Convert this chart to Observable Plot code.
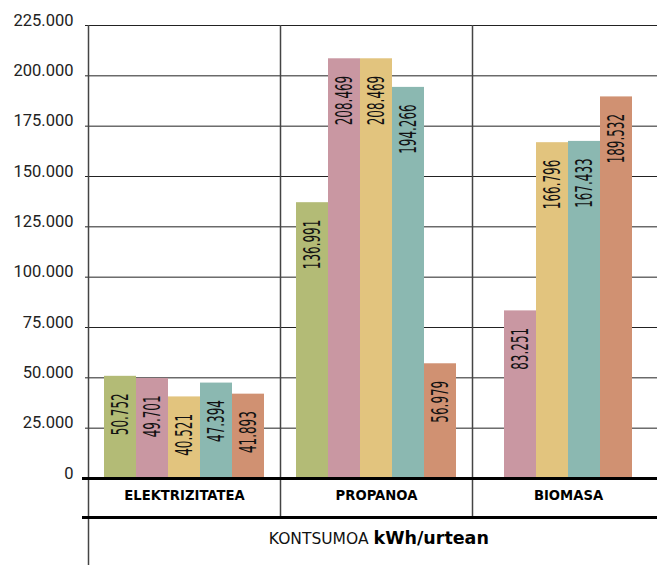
<!DOCTYPE html>
<html>
<head>
<meta charset="utf-8">
<script src="https://cdn.jsdelivr.net/npm/d3@7"></script>
<script src="https://cdn.jsdelivr.net/npm/@observablehq/plot@0.6"></script>
<style>
  html, body { margin: 0; padding: 0; overflow: hidden; background: #fff; }
  #chart svg { display: block; max-width: none !important; }
</style>
</head>
<body>
<div id="chart"></div>
<script>
// ---- data ----
const categories = ["ELEKTRIZITATEA", "PROPANOA", "BIOMASA"];
const series = ["1", "2", "3", "4", "5"];
const colors = ["#b3bb76", "#c997a2", "#e2c47e", "#8bb8b1", "#d09172"];
const elektrizitatea = [50752, 49701, 40521, 47394, 41893];
const propanoa = [136991, 208469, 208469, 194266, 56979];
const biomasa = [null, 83251, 166796, 167433, 189532];
const yTicks = [0, 25000, 50000, 75000, 100000, 125000, 150000, 175000, 200000, 225000];
const captionRegular = "KONTSUMOA";
const captionBold = "kWh/urtean";

const values = [elektrizitatea, propanoa, biomasa];
const slotsPerGroup = 6;

const fmt = d3.formatLocale({decimal: ",", thousands: ".", grouping: [3], currency: ["", ""]}).format(",d");

const rows = [];
categories.forEach((c, g) => {
  const present = series.map((s, i) => ({s, v: values[g][i]})).filter(d => d.v != null);
  present.forEach((d, k) => {
    const start = g * slotsPerGroup + slotsPerGroup / 2 - present.length / 2 + k;
    rows.push({category: c, series: d.s, value: d.v, x1: start, x2: start + 1});
  });
});

const chart = Plot.plot({
  width: 664,
  height: 565,
  marginLeft: 88,
  marginRight: 0,
  marginTop: 25,
  marginBottom: 87,
  x: {domain: [0, categories.length * slotsPerGroup], axis: null},
  y: {domain: [0, 225000], axis: null},
  color: {domain: series, range: colors},
  style: {background: "white"},
  marks: [
    Plot.ruleY(yTicks, {stroke: "#222", strokeWidth: 1, insetLeft: -3}),
    Plot.rectY(rows, {x1: "x1", x2: "x2", y: "value", fill: "series"}),
    Plot.ruleX([0], {stroke: "#444", strokeWidth: 1.5, insetBottom: -87}),
    Plot.ruleX(categories.slice(1).map((c, i) => (i + 1) * slotsPerGroup), {stroke: "#444", strokeWidth: 1.5, insetBottom: -39}),
    Plot.ruleY([0], {stroke: "#000", strokeWidth: 3, insetLeft: -6}),
    Plot.ruleY([0], {stroke: "#000", strokeWidth: 3, insetLeft: -6, dy: 39}),
    Plot.text(yTicks, {y: d => d, text: d => fmt(d), frameAnchor: "left", textAnchor: "end", dx: -15, dy: -5, fontSize: 16.5, fontFamily: "Roboto", fill: "#222"}),
    Plot.text(rows, {x: d => (d.x1 + d.x2) / 2, y: "value", text: d => fmt(d.value), rotate: -90, textAnchor: "end", dy: 17, fontSize: 23, fontFamily: "DejaVu Sans", fill: "#111", ariaLabel: "bar-labels"}),
    Plot.text(categories, {x: (d, i) => i * slotsPerGroup + slotsPerGroup / 2, frameAnchor: "bottom", dy: 21, fontSize: 13.2, fontWeight: "bold", fontFamily: "DejaVu Sans", fill: "#000", ariaLabel: "cat-labels"}),
    Plot.text([captionRegular], {frameAnchor: "bottom", textAnchor: "end", dx: -8, dy: 65, fontSize: 15.5, fontFamily: "DejaVu Sans", fill: "#111"}),
    Plot.text([captionBold], {frameAnchor: "bottom", textAnchor: "start", dx: -3, dy: 65, fontSize: 17.5, fontWeight: "bold", fontFamily: "DejaVu Sans", fill: "#000"})
  ]
});

// condensed look for the bar value labels: squeeze along the text direction
chart.querySelectorAll("text").forEach(t => {
  const tr = t.getAttribute("transform") || "";
  if (tr.includes("rotate(-90)")) t.setAttribute("transform", tr + " scale(0.52,1)");
});
chart.querySelectorAll('g[aria-label="cat-labels"] text').forEach(t => {
  t.style.letterSpacing = "0.4px";
});

document.getElementById("chart").appendChild(chart);
</script>
</body>
</html>
